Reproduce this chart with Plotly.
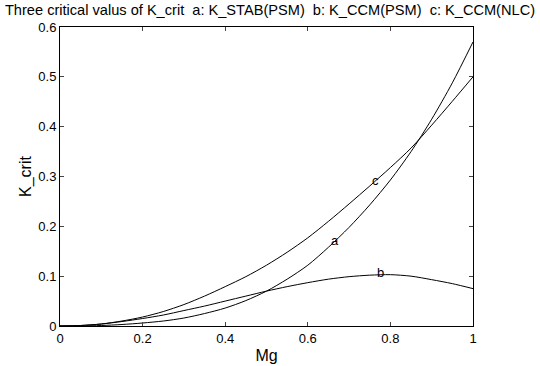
import plotly.graph_objects as go

mg = [0.0, 0.05, 0.1, 0.15, 0.2, 0.25, 0.3, 0.35, 0.4, 0.45, 0.5,
      0.55, 0.6, 0.65, 0.7, 0.75, 0.8, 0.85, 0.9, 0.95, 1.0]
k_stab_psm = [0.0, 0.0, 0.001, 0.003, 0.006, 0.010, 0.016, 0.025, 0.036, 0.051, 0.070,
              0.094, 0.122, 0.158, 0.198, 0.243, 0.293, 0.350, 0.415, 0.488, 0.570]
k_ccm_psm = [0.0, 0.001, 0.004, 0.009, 0.015, 0.022, 0.031, 0.040, 0.050, 0.060, 0.070,
             0.079, 0.087, 0.094, 0.099, 0.102, 0.103, 0.100, 0.093, 0.085, 0.075]
k_ccm_nlc = [0.0, 0.001, 0.004, 0.010, 0.018, 0.029, 0.043, 0.060, 0.079, 0.099, 0.122,
             0.148, 0.177, 0.210, 0.245, 0.281, 0.318, 0.357, 0.403, 0.451, 0.500]

labels = ["a", "b", "c"]
label_x = [0.665, 0.775, 0.765]
label_y = [0.172, 0.108, 0.291]

x_ticks = [0, 0.2, 0.4, 0.6, 0.8, 1]
x_ticktext = ["0", "0.2", "0.4", "0.6", "0.8", "1"]
y_ticks = [0, 0.1, 0.2, 0.3, 0.4, 0.5, 0.6]
y_ticktext = ["0", "0.1", "0.2", "0.3", "0.4", "0.5", "0.6"]

title = "Three critical valus of K_crit  a: K_STAB(PSM)  b: K_CCM(PSM)  c: K_CCM(NLC)"

fig = go.Figure()
for ys in (k_stab_psm, k_ccm_psm, k_ccm_nlc):
    fig.add_trace(go.Scatter(x=mg, y=ys, mode="lines", line=dict(color="black", width=1, shape="spline", smoothing=0.8),
                             showlegend=False, hoverinfo="skip"))

for t, lx, ly in zip(labels, label_x, label_y):
    fig.add_annotation(x=lx, y=ly, text=t, showarrow=False,
                       font=dict(family="Liberation Sans, Arial", size=13, color="black"))

font = dict(family="Liberation Sans, Arial", size=13, color="black")
fig.update_layout(
    width=540, height=366,
    margin=dict(l=60, r=67, t=27, b=40, autoexpand=False),
    paper_bgcolor="white", plot_bgcolor="white",
    title=dict(text=title, x=0.5, xanchor="center", y=0.972, yanchor="middle",
               font=dict(family="Liberation Sans, Arial", size=14.6, color="black")),
    font=font,
    xaxis=dict(range=[0, 1], tickvals=x_ticks, ticktext=x_ticktext, ticks="inside", ticklen=4,
               showline=True, linecolor="black", linewidth=1, mirror="ticks", showgrid=False,
               zeroline=False, automargin=False, title=dict(text="Mg", standoff=5), tickfont=font),
    yaxis=dict(range=[0, 0.6], tickvals=y_ticks, ticktext=y_ticktext, ticks="inside", ticklen=4,
               showline=True, linecolor="black", linewidth=1, mirror="ticks", showgrid=False,
               zeroline=False, automargin=False, title=dict(text="K_crit", standoff=2), tickfont=font),
)
fig.write_html("out.html", config={"displayModeBar": False},
               post_script="document.body.style.margin='0px';")
